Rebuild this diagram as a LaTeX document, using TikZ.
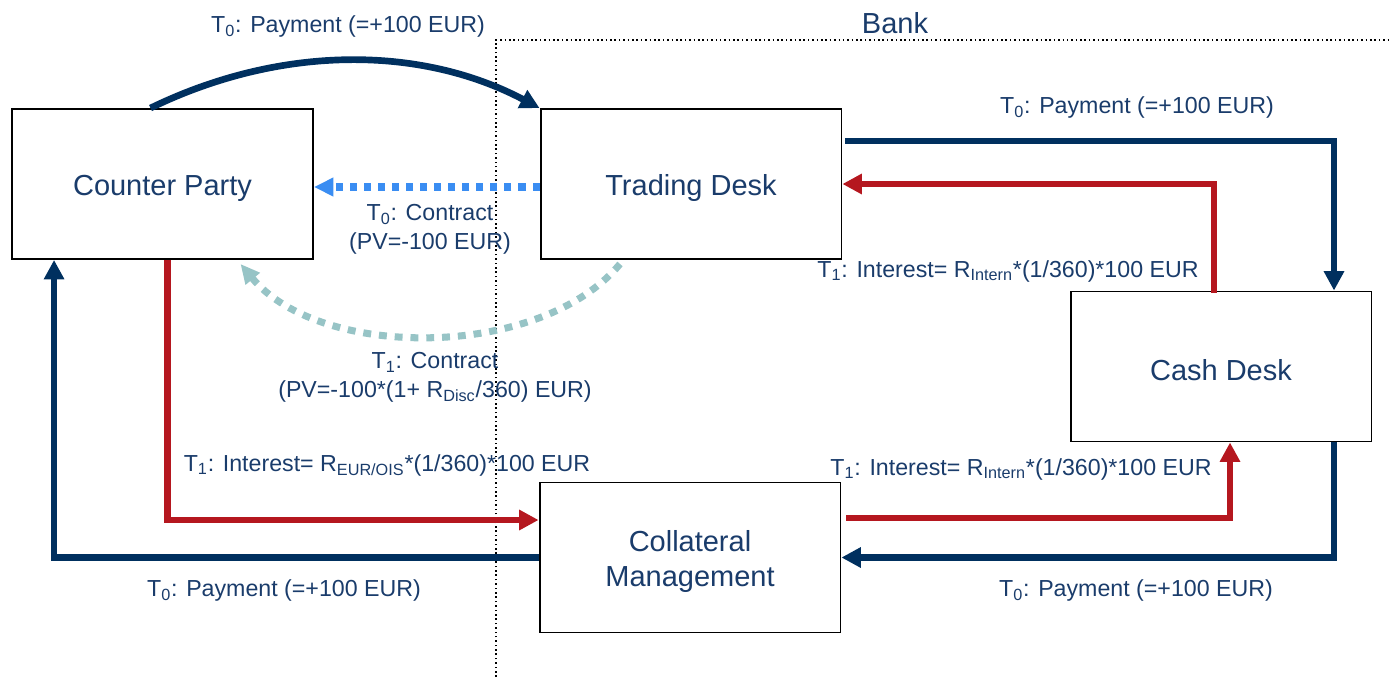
\documentclass[tikz,border=0pt]{standalone}
\usepackage{fontspec}
\setmainfont{Liberation Sans}
\usetikzlibrary{arrows.meta,calc}
\definecolor{navy}{HTML}{00305F}
\definecolor{txtblue}{HTML}{1A3C6B}
\definecolor{dred}{HTML}{B5171F}
\definecolor{skyblue}{HTML}{3A8DF2}
\definecolor{tealgrey}{HTML}{97C4C6}
\begin{document}
\begin{tikzpicture}[x=0.02cm,y=-0.02cm,
  box/.style={draw=black, line width=1.1pt, fill=white, minimum width=6.02cm,
    minimum height=3cm, inner sep=0pt,
    label={[boxtext]center:#1}},
  boxtext/.style={align=center, text=txtblue, inner sep=0pt, yshift=-0.08cm,
    font=\fontsize{16.5}{20.4}\selectfont},
  lbl/.style={text=txtblue, align=center, inner sep=0pt,
    font=\fontsize{13.2}{16.4}\selectfont},
  tip/.style={-{Triangle[length=11pt,width=11pt]}},
  pay/.style={draw=navy, line width=3.8pt, tip},
  intr/.style={draw=dred, line width=3.8pt, tip},
  contract0/.style={draw=skyblue, line width=4pt, dash pattern=on 4pt off 4pt,
    -{Triangle[length=11pt,width=10pt]}},
  contract1/.style={draw=tealgrey, line width=4pt, dash pattern=on 4.5pt off 4.5pt,
    -{Triangle[length=11pt,width=10pt]}},
  divider/.style={draw=black, line width=0.9pt, dash pattern=on 0.9pt off 1.6pt}]
\useasboundingbox (0,0) rectangle (1389,677);

% bank boundary
\coordinate (bcorner) at (496,40);
\coordinate (bbottom) at (496,677);
\coordinate (bright) at (1389,40);
\draw[divider] (bbottom) -- (bcorner) -- (bright);
\node[lbl, font=\fontsize{16.5}{20}\selectfont] (bank) at (895,23) {Bank};

% parties and desks
\node[box={Counter Party}] (cp) at (162.5,184) {};
\node[box={Trading Desk}] (td) at (691,184) {};
\node[box={Cash Desk}] (cd) at (1221,366.5) {};
\node[box={Collateral\\Management}] (cm) at (690,557.5) {};

% T0 payment from the counter party to the trading desk
\draw[pay] ($(cp.north)+(-12,0)$) .. controls (280,45) and (420,45) .. (td.north west);
\node[lbl] (l1) at (348,26) {T\textsubscript{0}: Payment (=+100 EUR)};

% T0 contract
\draw[contract0] ($(td.west)+(0,3)$) -- ($(cp.east)+(0,3)$);
\node[lbl] (l2) at (430,229) {T\textsubscript{0}: Contract\\(PV=-100 EUR)};

% T1 contract
\draw[contract1] ($(td.south)+(-71,4)$) .. controls (540,360) and (320,360) .. ($(cp.south)+(78,4)$);
\node[lbl] (l3) at (435,377) {T\textsubscript{1}: Contract\\(PV=-100*(1+ R\textsubscript{Disc}/360) EUR)};

% counter party <-> collateral management
\draw[intr] ($(cp.south)+(5,0)$) |- ($(cm.west)+(0,-37.5)$);
\node[lbl] (l4) at (387,465) {T\textsubscript{1}: Interest= R\textsubscript{EUR/OIS}*(1/360)*100 EUR};
\draw[pay] (cm.west) -| ($(cp.south west)+(43,0)$);
\node[lbl] (l5) at (284,590) {T\textsubscript{0}: Payment (=+100 EUR)};

% trading desk <-> cash desk
\draw[pay] ($(td.east)+(3,-43)$) -| ($(cd.north)+(113,0)$);
\node[lbl] (l6) at (1137,107) {T\textsubscript{0}: Payment (=+100 EUR)};
\draw[intr] ($(cd.north)+(-7,2)$) |- (td.east);
\node[lbl] (l7) at (1008,271) {T\textsubscript{1}: Interest= R\textsubscript{Intern}*(1/360)*100 EUR};

% collateral management <-> cash desk
\draw[intr] ($(cm.east)+(5,-39.5)$) -| ($(cd.south)+(9,0)$);
\node[lbl] (l8) at (1021,469) {T\textsubscript{1}: Interest= R\textsubscript{Intern}*(1/360)*100 EUR};
\draw[pay] ($(cd.south)+(113,0)$) |- (cm.east);
\node[lbl] (l9) at (1136,590) {T\textsubscript{0}: Payment (=+100 EUR)};
\end{tikzpicture}
\end{document}
